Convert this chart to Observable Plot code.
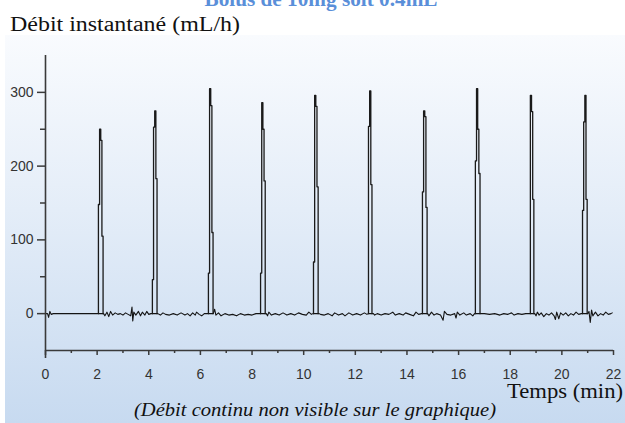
<!DOCTYPE html>
<html><head><meta charset="utf-8">
<script src="https://cdn.jsdelivr.net/npm/d3@7"></script>
<script src="https://cdn.jsdelivr.net/npm/@observablehq/plot@0.6"></script>
<style>
html,body{margin:0;padding:0;background:#fff;}
#wrap{position:relative;width:625px;height:423px;overflow:hidden;background:#fff;}
#panel{position:absolute;left:5px;top:35px;right:0;bottom:0;background:linear-gradient(to bottom,#f9fbfe 0%,#e4edf8 45%,#c7daf0 100%);}
#chart{position:absolute;left:0;top:0;}
#texts{position:absolute;left:0;top:0;}
</style></head><body>
<div id="wrap"><div id="panel"></div><div id="chart"></div><svg id="texts" width="625" height="423"></svg></div>
<script>
// ---- data ----
const titleText = "Bolus de 10mg soit 0.4mL";
const yLabelText = "Débit instantané (mL/h)";
const xLabelText = "Temps (min)";
const captionText = "(Débit continu non visible sur le graphique)";

const xMajorTicks = [0, 2, 4, 6, 8, 10, 12, 14, 16, 18, 20, 22];
const xMinorTicks = [1, 3, 5, 7, 9, 11, 13, 15, 17, 19, 21];
const yMajorTicks = [0, 100, 200, 300];
const yMinorTicks = [50, 150, 250];

// bolus spikes: start time (min) and successive sampled flow values (mL/h)
const sampleStep = 0.045;
const spikeStart = [2.05, 4.14, 6.31, 8.33, 10.38, 12.51, 14.60, 16.65, 18.78, 20.80];
const spikeLevels = [
  [148, 250, 235, 105],
  [46, 253, 275, 183],
  [55, 305, 282, 110],
  [55, 286, 250, 180],
  [70, 296, 281, 172],
  [254, 302, 175],
  [165, 275, 267, 144],
  [207, 305, 250, 190],
  [296, 274, 155],
  [140, 260, 296, 155]
];

// baseline (time, flow) between boluses
const baseline = [
  [0,0],[0.08,0],[0.12,-5],[0.17,3],[0.22,-1],[0.3,0],[2.0,0],
  [2.25,0],[2.3,-3],[2.38,2],[2.45,-4],[2.52,3],[2.6,-2],[2.7,1],[2.8,-1],[2.9,0],[3.0,-2],[3.1,1],[3.2,-1],[3.3,-3],[3.35,9],[3.38,-10],[3.42,2],[3.5,-2],[3.6,3],[3.68,-3],[3.75,2],[3.85,-2],[3.92,3],[4.0,-1],[4.08,0],[4.12,0],
  [4.35,0],[4.45,-2],[4.55,1],[4.65,-1],[4.8,-2],[4.95,0],[5.1,-2],[5.25,1],[5.4,-2],[5.5,0],[5.6,-3],[5.7,1],[5.8,-2],[5.85,2],[5.95,-1],[6.05,-3],[6.15,0],[6.28,0],
  [6.5,0],[6.55,6],[6.6,-2],[6.7,1],[6.8,-3],[6.95,0],[7.1,-2],[7.25,-1],[7.4,-3],[7.55,0],[7.7,-2],[7.85,-1],[8.0,-2],[8.15,0],[8.3,0],
  [8.55,0],[8.6,-3],[8.65,2],[8.75,-2],[8.9,0],[9.05,-2],[9.2,1],[9.35,-2],[9.5,0],[9.65,-2],[9.8,1],[9.95,-1],[10.1,-2],[10.2,2],[10.3,-1],[10.36,0],
  [10.6,0],[10.65,-1],[10.8,-2],[10.95,0],[11.1,-3],[11.2,1],[11.35,-2],[11.5,0],[11.6,-3],[11.75,1],[11.9,-2],[12.05,0],[12.2,-2],[12.35,1],[12.45,-1],[12.5,0],
  [12.7,0],[12.75,-2],[12.85,0],[13.0,-2],[13.15,0],[13.3,-1],[13.45,2],[13.55,-2],[13.7,0],[13.85,-2],[13.95,1],[14.1,-1],[14.25,-3],[14.35,2],[14.45,-1],[14.57,0],
  [14.8,0],[14.85,-3],[14.95,2],[15.05,-2],[15.15,0],[15.3,-2],[15.4,-9],[15.45,3],[15.55,-1],[15.7,-2],[15.85,0],[15.9,-6],[15.95,2],[16.05,-2],[16.2,1],[16.3,-2],[16.45,0],[16.55,-3],[16.62,0],
  [16.85,0],[17.0,0],[17.2,-1],[17.4,0],[17.6,-2],[17.75,0],[17.9,-1],[18.05,1],[18.15,-2],[18.3,0],[18.45,-1],[18.6,0],[18.75,0],
  [18.95,0],[19.0,-3],[19.05,2],[19.12,-2],[19.2,1],[19.3,-4],[19.4,0],[19.5,-2],[19.6,1],[19.7,-3],[19.75,-8],[19.8,2],[19.88,-7],[19.95,1],[20.05,-2],[20.15,1],[20.25,-3],[20.35,0],[20.45,-2],[20.55,2],[20.65,-1],[20.75,0],
  [21.0,0],[21.05,3],[21.1,-12],[21.15,5],[21.2,-3],[21.3,2],[21.4,-3],[21.5,0],[21.6,-2],[21.7,2],[21.8,-1],[21.9,0],[21.95,1]
];

// ---- build series ----
const base = baseline.map(([t, v]) => ({t, v}));
const spikes = [];
spikeStart.forEach((t0, i) => {
  const lv = spikeLevels[i];
  const tEnd = t0 + lv.length * sampleStep;
  base.push({t: t0, v: 0}, {t: tEnd, v: 0});
  spikes.push({id: i, t: t0, v: 0});
  lv.forEach((v, k) => spikes.push({id: i, t: t0 + k * sampleStep, v}));
  spikes.push({id: i, t: tEnd, v: 0});
});
base.sort((a, b) => a.t - b.t);

const axisColor = "#3a3a3a";
const chart = Plot.plot({
  width: 625, height: 423,
  marginLeft: 45, marginRight: 12, marginTop: 55, marginBottom: 73,
  style: {background: "transparent", fontFamily: "'Liberation Sans', Arial, sans-serif", fontSize: "14px", color: axisColor, overflow: "visible"},
  x: {domain: [0, 22], label: null},
  y: {domain: [-50, 350], label: null},
  marks: [
    Plot.line(base, {x: "t", y: "v", stroke: "#141414", strokeWidth: 1.1}),
    Plot.line(spikes, {x: "t", y: "v", z: "id", curve: "step-after", stroke: "#1a1a1a", strokeWidth: 1.3}),
    Plot.ruleX([0], {stroke: axisColor, strokeWidth: 1.6, insetBottom: -8}),
    Plot.ruleY([-50], {stroke: axisColor, strokeWidth: 1.6}),
    Plot.axisX(xMajorTicks, {tickSize: 5, tickPadding: 14, stroke: axisColor, strokeWidth: 1.5, fill: "#333", label: null}),
    Plot.axisX(xMinorTicks, {tickSize: 3, tickFormat: () => "", stroke: axisColor, strokeWidth: 1.5, label: null}),
    Plot.axisY(yMajorTicks, {tickSize: 8, tickPadding: 4, stroke: axisColor, strokeWidth: 1.5, fill: "#333", label: null}),
    Plot.axisY(yMinorTicks, {tickSize: 5, tickFormat: () => "", stroke: axisColor, strokeWidth: 1.5, label: null})
  ]
});
document.getElementById("chart").appendChild(chart);

// ---- texts ----
const svg = d3.select("#texts");
function addText(str, x, y, opts) {
  svg.append("text").text(str)
    .attr("x", x).attr("y", y)
    .attr("font-family", "'Liberation Serif', 'Times New Roman', serif")
    .attr("font-size", opts.size)
    .attr("font-weight", opts.weight || "normal")
    .attr("font-style", opts.style || "normal")
    .attr("fill", opts.fill || "#111")
    .attr("text-anchor", opts.anchor || "start")
    .attr("textLength", opts.len)
    .attr("lengthAdjust", "spacingAndGlyphs");
}
addText(titleText, 321, 6, {size: 20, weight: "bold", fill: "#5a8fd9", anchor: "middle", len: 233});
addText(yLabelText, 10, 31, {size: 20, len: 230});
addText(xLabelText, 507, 398, {size: 21, len: 116});
addText(captionText, 134, 416, {size: 18, style: "italic", len: 362});
</script>
</body></html>
